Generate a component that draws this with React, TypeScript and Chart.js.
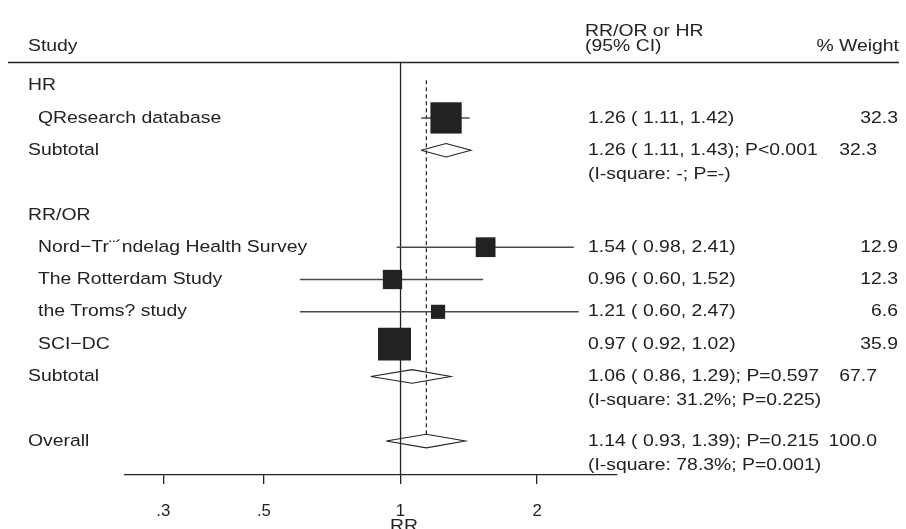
import { useEffect, useRef } from "react";
import { Chart, registerables } from "chart.js";

Chart.register(...registerables);

// ---------- data ----------
const headStudy = "Study";
const headEffectLine1 = "RR/OR or HR";
const headEffectLine2 = "(95% CI)";
const headWeight = "% Weight";

const groupLabels = ["HR", "RR/OR"];
const groupRows = [0, 4];

const studyNames = [
  "QResearch database",
  "Nord\u2212Tr\u00A8\u00B4ndelag Health Survey",
  "The Rotterdam Study",
  "the Troms? study",
  "SCI\u2212DC",
];
const studyRows = [1, 5, 6, 7, 8];
const studyEst = [1.26, 1.54, 0.96, 1.21, 0.97];
const studyLow = [1.11, 0.98, 0.6, 0.6, 0.92];
const studyHigh = [1.42, 2.41, 1.52, 2.47, 1.02];
const studyWeight = [32.3, 12.9, 12.3, 6.6, 35.9];

const poolLabels = ["Subtotal", "Subtotal", "Overall"];
const poolRows = [2, 9, 11];
const poolEst = [1.26, 1.06, 1.14];
const poolLow = [1.11, 0.86, 0.93];
const poolHigh = [1.43, 1.29, 1.39];
const poolP = ["P<0.001", "P=0.597", "P=0.215"];
const poolHet = [
  "(I-square: -; P=-)",
  "(I-square: 31.2%; P=0.225)",
  "(I-square: 78.3%; P=0.001)",
];
const poolWeight = [32.3, 67.7, 100.0];

const tickValues = [0.3, 0.5, 1, 2];
const tickLabels = [".3", ".5", "1", "2"];
const axisTitle = "RR";
const nullValue = 1;
const overallIndex = 2;

// ---------- styling ----------
const INK = "#222222";
const CI_COLOR = "#4a4a4a";
const FAMILY = '"Liberation Sans", Arial, Helvetica, sans-serif';
const FONT_SIZE = 16.8;
const FONT = `${FONT_SIZE}px ${FAMILY}`;
const SX = 1.155; // horizontal stretch of the reference text

const fmt = (v: number) => v.toFixed(2);

export default function App() {
  const ref = useRef<HTMLCanvasElement>(null);

  useEffect(() => {
    const canvas = ref.current;
    if (!canvas) return;

    const BOX_R = 3.89; // point radius per sqrt(weight)
    const DH = 0.21; // diamond half-height in rows
    const Y_MIN = -0.7;
    const Y_MAX = 12.05;

    const datasets: any[] = [];
    // null line
    datasets.push({
      data: [
        { x: nullValue, y: Y_MIN },
        { x: nullValue, y: Y_MAX },
      ],
      showLine: true,
      borderColor: INK,
      borderWidth: 1.3,
      pointRadius: 0,
      order: 5,
    });
    // overall effect dashed line
    datasets.push({
      data: [
        { x: poolEst[overallIndex], y: -0.17 },
        { x: poolEst[overallIndex], y: poolRows[overallIndex] - DH },
      ],
      showLine: true,
      borderColor: INK,
      borderWidth: 1.2,
      borderDash: [4, 3],
      pointRadius: 0,
      order: 5,
    });
    // CI lines
    studyRows.forEach((r, i) => {
      datasets.push({
        data: [
          { x: studyLow[i], y: r },
          { x: studyHigh[i], y: r },
        ],
        showLine: true,
        borderColor: CI_COLOR,
        borderWidth: 1.5,
        pointRadius: 0,
        order: 4,
      });
    });
    // weighted boxes
    datasets.push({
      data: studyRows.map((r, i) => ({ x: studyEst[i], y: r })),
      showLine: false,
      pointStyle: "rect",
      pointRadius: studyWeight.map((w) => BOX_R * Math.sqrt(w)),
      backgroundColor: INK,
      borderColor: INK,
      borderWidth: 0,
      order: 2,
    });
    // diamonds
    poolRows.forEach((r, i) => {
      datasets.push({
        data: [
          { x: poolLow[i], y: r },
          { x: poolEst[i], y: r - DH },
          { x: poolHigh[i], y: r },
          { x: poolEst[i], y: r + DH },
          { x: poolLow[i], y: r },
        ],
        showLine: true,
        borderColor: INK,
        borderWidth: 1.1,
        fill: false,
        tension: 0,
        pointRadius: 0,
        order: 1,
      });
    });

    const textPlugin = {
      id: "forestText",
      afterDraw(chart: any) {
        const { ctx } = chart;
        const ys = chart.scales.y;
        ctx.save();
        ctx.fillStyle = INK;
        ctx.font = FONT;
        ctx.textBaseline = "middle";
        const put = (t: string, x: number, y: number, align: CanvasTextAlign = "left") => {
          ctx.save();
          ctx.translate(x, y);
          ctx.scale(SX, 1);
          ctx.textAlign = align;
          ctx.fillText(t, 0, 0);
          ctx.restore();
        };
        // header
        put(headStudy, 28, 46.5);
        put(headEffectLine1, 585, 31);
        put(headEffectLine2, 585, 46.5);
        put(headWeight, 899, 46.5, "right");
        ctx.strokeStyle = INK;
        ctx.lineWidth = 1.3;
        ctx.beginPath();
        ctx.moveTo(8, 62.5);
        ctx.lineTo(899, 62.5);
        ctx.stroke();

        groupRows.forEach((r, i) => put(groupLabels[i], 28, ys.getPixelForValue(r)));

        studyRows.forEach((r, i) => {
          const y = ys.getPixelForValue(r);
          put(studyNames[i], 38, y);
          put(`${fmt(studyEst[i])} ( ${fmt(studyLow[i])}, ${fmt(studyHigh[i])})`, 588, y);
          put(studyWeight[i].toFixed(1), 898, y, "right");
        });

        poolRows.forEach((r, i) => {
          const y = ys.getPixelForValue(r);
          put(poolLabels[i], 28, y);
          put(`${fmt(poolEst[i])} ( ${fmt(poolLow[i])}, ${fmt(poolHigh[i])}); ${poolP[i]}`, 588, y);
          put(poolHet[i], 588, y + 24);
          put(poolWeight[i].toFixed(1), 877, y, "right");
        });

        put(axisTitle, 404, 526, "center");
        ctx.restore();
      },
    };

    const chart = new Chart(canvas, {
      type: "scatter",
      data: { datasets },
      options: {
        responsive: false,
        animation: false,
        events: [],
        layout: { padding: { left: 125, right: 289, top: 63, bottom: 0 } },
        plugins: {
          legend: { display: false },
          tooltip: { enabled: false },
          title: { display: false },
        },
        scales: {
          x: {
            type: "logarithmic",
            position: "bottom",
            min: 0.247,
            max: 3.0,
            afterBuildTicks: (s: any) => {
              s.ticks = tickValues.map((v) => ({ value: v }));
            },
            afterFit: (s: any) => {
              s.height = 70;
            },
            ticks: {
              autoSkip: false,
              maxRotation: 0,
              minRotation: 0,
              padding: 17,
              color: INK,
              font: { family: FAMILY, size: FONT_SIZE },
              callback: (_v: any, index: number) => tickLabels[index],
            },
            grid: {
              display: true,
              drawOnChartArea: false,
              drawTicks: true,
              tickLength: 9,
              color: INK,
              lineWidth: 1.3,
            },
            border: { display: true, color: INK, width: 1.3 },
            title: { display: false },
          },
          y: {
            type: "linear",
            min: Y_MIN,
            max: Y_MAX,
            reverse: true,
            display: false,
          },
        },
      } as any,
      plugins: [textPlugin],
    });

    return () => chart.destroy();
  }, []);

  return (
    <div
      style={{
        position: "fixed",
        left: 0,
        top: 0,
        width: 906,
        height: 529,
        overflow: "hidden",
        background: "#ffffff",
      }}
    >
      <canvas ref={ref} width={906} height={545} style={{ display: "block" }} />
    </div>
  );
}
